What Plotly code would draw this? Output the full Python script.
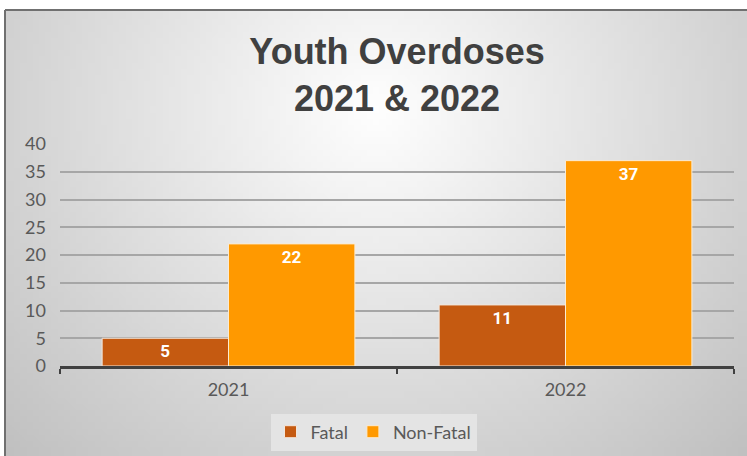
import base64
import struct
import zlib

import plotly.graph_objects as go

years = ["2021", "2022"]
fatal = [5, 11]
non_fatal = [22, 37]
y_ticks = [0, 5, 10, 15, 20, 25, 30, 35, 40]


# soft radial grey background, built as a tiny PNG and stretched over the figure
def gradient_png(w=120, h=72):
    rows = b""
    for j in range(h):
        row = b"\x00"
        for i in range(w):
            dx = (i / (w - 1) - 0.5) / 0.5
            dy = (j / (h - 1) - 0.22) / 0.78
            d = min((dx * dx + dy * dy) ** 0.5, 1.5)
            g = int(max(0, min(255, 255 - 44 * d)))
            row += bytes([g, g, g])
        rows += row

    def chunk(tag, data):
        c = struct.pack(">I", len(data)) + tag + data
        return c + struct.pack(">I", zlib.crc32(tag + data) & 0xffffffff)

    png = b"\x89PNG\r\n\x1a\n"
    png += chunk(b"IHDR", struct.pack(">IIBBBBB", w, h, 8, 2, 0, 0, 0))
    png += chunk(b"IDAT", zlib.compress(rows, 9))
    png += chunk(b"IEND", b"")
    return "data:image/png;base64," + base64.b64encode(png).decode()


W, H = 747, 456
L, R, T, B = 60, 13, 144, 90
pw, ph = W - L - R, H - T - B


def px(x):
    return (x - L) / pw


def py(y):
    return (H - B - y) / ph


fig = go.Figure()

fig.add_trace(go.Bar(
    x=years, y=fatal, name="Fatal",
    marker=dict(color="#C55A11", line=dict(color="#F3E6DA", width=1)),
    texttemplate="<b>%{y}</b>", textposition="inside", insidetextanchor="end",
    textfont=dict(color="white", size=17, family="Roboto"),
))
fig.add_trace(go.Bar(
    x=years, y=non_fatal, name="Non-Fatal",
    marker=dict(color="#FF9900", line=dict(color="#FBEBD2", width=1)),
    texttemplate="<b>%{y}</b>", textposition="inside", insidetextanchor="end",
    textfont=dict(color="white", size=17, family="Roboto"),
))

fig.update_layout(
    width=W, height=H,
    margin=dict(l=L, r=R, t=T, b=B),
    paper_bgcolor="white",
    plot_bgcolor="rgba(0,0,0,0)",
    barmode="group",
    bargap=0.25,
    bargroupgap=0,
    font=dict(family="Lato", color="#595959", size=18),
    title=dict(
        text="<b>Youth Overdoses<br>2021 & 2022</b>",
        x=0.5, xanchor="center", xref="paper",
        y=1 - 64 / H, yanchor="top",
        font=dict(family="Liberation Sans", size=36, color="#404040"),
    ),
    legend=dict(
        orientation="h", xref="container", yref="container",
        x=0.5, xanchor="center", y=1 - 432 / H, yanchor="middle",
        bgcolor="#E4E4E4", font=dict(size=18, color="#595959"),
        itemwidth=30, traceorder="normal",
    ),
    images=[dict(
        source=gradient_png(), xref="paper", yref="paper",
        x=px(5), y=py(10), sizex=px(W) - px(5), sizey=py(10) - py(H),
        xanchor="left", yanchor="top", sizing="stretch", layer="below",
    )],
    shapes=[
        dict(type="line", xref="paper", yref="paper", x0=px(5), x1=px(W), y0=py(10), y1=py(10),
             line=dict(color="#707070", width=2)),
        dict(type="line", xref="paper", yref="paper", x0=px(5), x1=px(5), y0=py(10), y1=py(H),
             line=dict(color="#707070", width=2)),
    ],
)

fig.update_yaxes(
    range=[0, 40], tickvals=y_ticks, showgrid=True, gridcolor="#A6A6A6", gridwidth=1.5,
    zeroline=False, showline=False, ticks="", ticklabelstandoff=13,
    tickfont=dict(size=18, color="#595959"),
)
fig.update_xaxes(
    showline=True, linecolor="#404040", linewidth=2.5,
    ticks="outside", tickson="boundaries", ticklen=5, tickcolor="#404040", tickwidth=2,
    tickfont=dict(size=18, color="#595959"), ticklabelstandoff=6,
)

fig.write_html("out.html", config={"displayModeBar": False},
               post_script="document.body.style.margin='0';")
